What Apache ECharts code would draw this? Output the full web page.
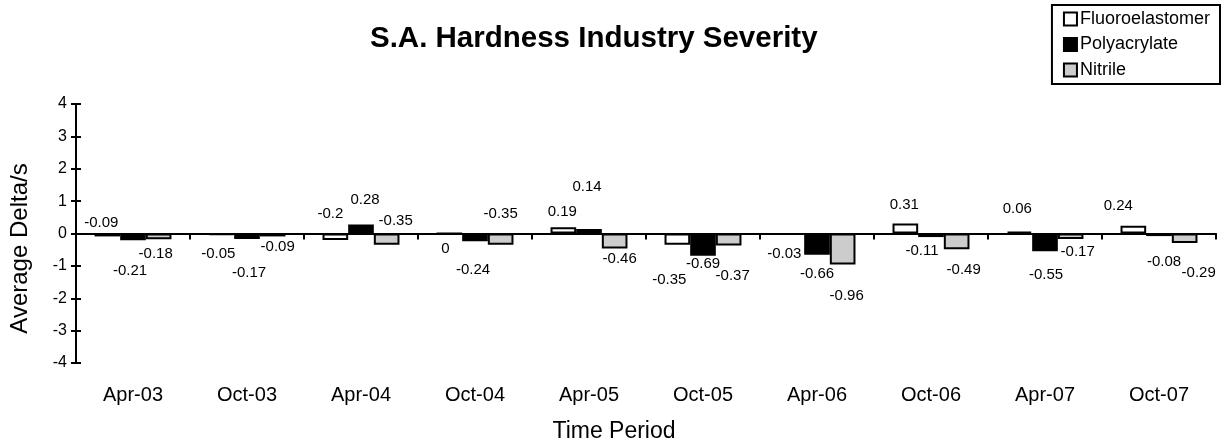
<!DOCTYPE html>
<html>
<head>
<meta charset="utf-8">
<script src="https://cdn.jsdelivr.net/npm/echarts@6/dist/echarts.min.js"></script>
<style>
html,body{margin:0;padding:0;background:#fff;}
#chart{width:1225px;height:448px;}
</style>
</head>
<body>
<div id="chart"></div>
<script>
// ---- data ----
const categories = ['Apr-03','Oct-03','Apr-04','Oct-04','Apr-05','Oct-05','Apr-06','Oct-06','Apr-07','Oct-07'];
const seriesNames = ['Fluoroelastomer','Polyacrylate','Nitrile'];
const fluoroelastomer = [-0.09, -0.05, -0.2, 0, 0.19, -0.35, -0.03, 0.31, 0.06, 0.24];
const polyacrylate    = [-0.21, -0.17, 0.28, -0.24, 0.14, -0.69, -0.66, -0.11, -0.55, -0.08];
const nitrile         = [-0.18, -0.09, -0.35, -0.35, -0.46, -0.37, -0.96, -0.49, -0.17, -0.29];
const yTicks = [-4, -3, -2, -1, 0, 1, 2, 3, 4];

// label nudges (pixels, relative to bar end) to mimic hand-placed data labels
const labelNudgeX = [
  [-6, -3, -5, -4, -1, -8, -7, -1, -2, -15],
  [-3,  2,  4, -2, -2,  0,  0, -9,  1,   5],
  [-3,  5,  9,  0,  5,  4,  4,  7,  7,  14]
];
const labelNudgeY = [
  [-14, 19, -26, 15, -15, 35, 19, -19, -23, -20],
  [ 31, 34, -25, 29, -42,  8, 19,  14,  24,  26],
  [ 15, 10, -24,-31,  10, 30, 31,  20,  13,  30]
];

const FONT = "'Liberation Sans', Arial, Helvetica, sans-serif";
const allSeries = [fluoroelastomer, polyacrylate, nitrile];
const fills = ['#ffffff', '#000000', '#cccccc'];
const CAT_GAP = 0.325;

const labelData = [];
allSeries.forEach((arr, s) => {
  arr.forEach((v, i) => {
    labelData.push([i, v, s, labelNudgeX[s][i], labelNudgeY[s][i]]);
  });
});

const chart = echarts.init(document.getElementById('chart'), null, {renderer: 'canvas'});

const barSeries = allSeries.map((arr, s) => ({
  name: seriesNames[s],
  type: 'bar',
  xAxisIndex: 0,
  yAxisIndex: 0,
  data: arr,
  barGap: '0%',
  barCategoryGap: (CAT_GAP * 100) + '%',
  itemStyle: {color: fills[s], borderColor: '#000', borderWidth: 2},
  emphasis: {disabled: true},
  animation: false
}));

const option = {
  animation: false,
  backgroundColor: '#ffffff',
  textStyle: {fontFamily: FONT, color: '#000'},
  title: {
    text: 'S.A. Hardness Industry Severity',
    left: 365,
    top: 19,
    textStyle: {fontFamily: FONT, fontSize: 29.5, fontWeight: 'bold', color: '#000'}
  },
  legend: {
    data: seriesNames,
    orient: 'vertical',
    right: 5,
    top: 5,
    padding: [5, 10, 5, 11],
    itemGap: 7.5,
    itemWidth: 13,
    itemHeight: 13,
    borderColor: '#000',
    borderWidth: 2,
    icon: 'rect',
    textStyle: {fontFamily: FONT, fontSize: 18, color: '#000', padding: [0, 0, 0, -2]}
  },
  grid: {left: 76, right: 9, top: 104, bottom: 81, containLabel: false},
  xAxis: [
    {
      type: 'category',
      data: categories,
      position: 'bottom',
      axisLine: {onZero: true, lineStyle: {color: '#000', width: 2}},
      axisTick: {show: true, length: 6, lineStyle: {color: '#000', width: 2}},
      axisLabel: {show: false},
      splitLine: {show: false}
    },
    {
      type: 'category',
      data: categories,
      position: 'bottom',
      axisLine: {show: false, onZero: false},
      axisTick: {show: false},
      axisLabel: {show: true, fontFamily: FONT, fontSize: 20, color: '#000', margin: 22},
      name: 'Time Period',
      nameLocation: 'middle',
      nameGap: 57,
      nameTextStyle: {fontFamily: FONT, fontSize: 23, color: '#000', padding: [0, 64, 0, 0]}
    }
  ],
  yAxis: [
    {
      type: 'value',
      min: yTicks[0],
      max: yTicks[yTicks.length - 1],
      interval: 1,
      axisLine: {show: true, lineStyle: {color: '#000', width: 2}},
      axisTick: {show: true, length: 5, lineStyle: {color: '#000', width: 2}},
      axisLabel: {fontFamily: FONT, fontSize: 16, color: '#000', margin: 9},
      splitLine: {show: false},
      name: 'Average Delta/s',
      nameLocation: 'middle',
      nameGap: 44,
      nameTextStyle: {fontFamily: FONT, fontSize: 24, color: '#000', padding: [0, 30, 0, 0]}
    },
    {
      type: 'value',
      position: 'left',
      min: yTicks[0],
      max: yTicks[yTicks.length - 1],
      interval: 1,
      axisLine: {show: false},
      axisTick: {show: true, inside: true, length: 5, lineStyle: {color: '#000', width: 2}},
      axisLabel: {show: false},
      splitLine: {show: false}
    }
  ],
  series: barSeries.concat([{
    type: 'custom',
    name: 'labels',
    xAxisIndex: 0,
    yAxisIndex: 0,
    z: 10,
    silent: true,
    data: labelData,
    encode: {x: 0, y: 1},
    renderItem: function (params, api) {
      const cat = api.value(0), v = api.value(1), s = api.value(2);
      const dx = api.value(3), dy = api.value(4);
      const p = api.coord([cat, v]);
      const bandW = api.size([1, 0])[0];
      const barW = bandW * (1 - CAT_GAP) / 3;
      return {
        type: 'text',
        x: p[0] + (s - 1) * barW + dx,
        y: p[1] + dy,
        style: {
          text: String(v),
          fill: '#000',
          font: '15px ' + FONT,
          align: 'center',
          verticalAlign: 'middle'
        }
      };
    }
  }])
};

chart.setOption(option);
</script>
</body>
</html>
